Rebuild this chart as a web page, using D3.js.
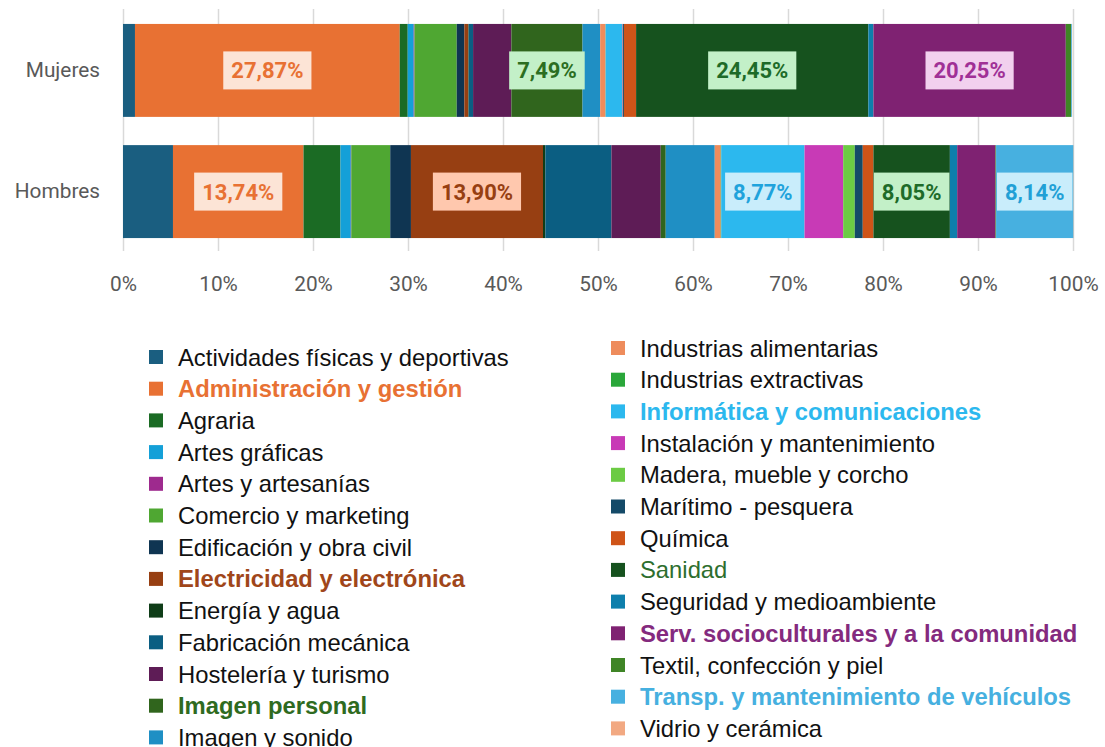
<!DOCTYPE html>
<html>
<head>
<meta charset="utf-8">
<style>
  body { margin: 0; background: #fff; }
  .gridlines line { stroke: #d9d9d9; stroke-width: 1.5; }
  .gridlines .domain { stroke: none; }
  .axis text { font-family: Roboto, sans-serif; font-size: 20.8px; fill: #595959; }
  .axis .domain, .axis line { stroke: none; }
  .legend text { font-family: Arial, "Liberation Sans", sans-serif; font-size: 23.8px; }
  .dlabel text { font-family: Roboto, sans-serif; font-size: 22px; font-weight: bold; }
</style>
<script src="https://d3js.org/d3.v7.min.js"></script>
</head>
<body>
<svg id="chart" width="1105" height="747"></svg>
<script>
// familias profesionales, % sobre el total de cada sexo
const categories = [
  "Actividades físicas y deportivas", "Administración y gestión", "Agraria", "Artes gráficas",
  "Artes y artesanías", "Comercio y marketing", "Edificación y obra civil", "Electricidad y electrónica",
  "Energía y agua", "Fabricación mecánica", "Hostelería y turismo", "Imagen personal",
  "Imagen y sonido", "Industrias alimentarias", "Industrias extractivas", "Informática y comunicaciones",
  "Instalación y mantenimiento", "Madera, mueble y corcho", "Marítimo - pesquera", "Química",
  "Sanidad", "Seguridad y medioambiente", "Serv. socioculturales y a la comunidad", "Textil, confección y piel",
  "Transp. y mantenimiento de vehículos", "Vidrio y cerámica"
];
const groups = ["Mujeres", "Hombres"];

const mujeres = [1.26, 27.87, 0.84, 0.63, 0.08, 4.45, 0.80, 0.42, 0.05, 0.45, 4.03, 7.49,
                 1.86, 0.56, 0.02, 1.72, 0.07, 0.03, 0.10, 1.28, 24.45, 0.53, 20.25, 0.56, 0.09, 0.02];
const hombres = [5.26, 13.74, 3.89, 1.09, 0.05, 4.10, 2.18, 13.90, 0.25, 6.95, 5.19, 0.53,
                 5.16, 0.63, 0.05, 8.77, 4.07, 1.22, 0.84, 1.12, 8.05, 0.77, 4.03, 0.06, 8.14, 0.02];
const tickValues = [0, 0.1, 0.2, 0.3, 0.4, 0.5, 0.6, 0.7, 0.8, 0.9, 1];

const colors = ["#1a5e80", "#e87133", "#1b6b24", "#14a0d8", "#9e2a8e", "#4fa732", "#0f3552", "#973f12",
                "#0f3d18", "#0b5e82", "#5e1c56", "#30651d", "#1f8fc4", "#ee8c5c", "#2aa73a", "#2cb8ee",
                "#c83ab6", "#6ccb44", "#144a68", "#cf5418", "#16521e", "#0e7fac", "#7f2272", "#3f8526",
                "#47b0e0", "#f2a982"];

// categorías con etiqueta y cómo se destacan
const highlight = {
  "Administración y gestión": {text: "#e87133", box: "#fce4d6", bold: true},
  "Electricidad y electrónica": {text: "#973f12", box: "#ffc8ae", bold: true},
  "Imagen personal": {text: "#2c6e22", box: "#c3f0c8", bold: true},
  "Informática y comunicaciones": {text: "#1fa3dc", box: "#c9edfb", bold: true},
  "Sanidad": {text: "#1e6b29", box: "#c3f0c8", bold: false},
  "Serv. socioculturales y a la comunidad": {text: "#a03096", box: "#f2d0ee", bold: true},
  "Transp. y mantenimiento de vehículos": {text: "#21a0d6", box: "#c9edfb", bold: true}
};
const legendColor = {
  "Administración y gestión": "#e87133",
  "Electricidad y electrónica": "#a0461a",
  "Imagen personal": "#2f6b1f",
  "Informática y comunicaciones": "#2cb8ee",
  "Sanidad": "#2d6e2e",
  "Serv. socioculturales y a la comunidad": "#842a7e",
  "Transp. y mantenimiento de vehículos": "#46b0e0"
};

const svg = d3.select("svg#chart");

const x = d3.scaleLinear().domain([0, 1]).range([123, 1073]);
const y = d3.scaleBand().domain(groups).range([10, 252]).paddingInner(0.233).paddingOuter(0.115);
const color = d3.scaleOrdinal().domain(categories).range(colors);

// gridlines
svg.append("g")
  .attr("class", "gridlines")
  .attr("transform", "translate(0,251)")
  .call(d3.axisBottom(x).tickValues(tickValues).tickSize(-242).tickFormat(""));

// stacked data
const table = groups.map((g, gi) => {
  const vals = gi === 0 ? mujeres : hombres;
  const row = {group: g};
  categories.forEach((c, i) => row[c] = vals[i] / 100);
  return row;
});
const series = d3.stack().keys(categories)(table);

const bars = svg.append("g");
series.forEach(s => {
  bars.selectAll(null)
    .data(s)
    .join("rect")
    .attr("x", d => x(d[0]))
    .attr("y", d => y(d.data.group))
    .attr("width", d => Math.max(0, x(d[1]) - x(d[0])))
    .attr("height", y.bandwidth())
    .attr("fill", color(s.key));
});

// data labels
const labels = svg.append("g").attr("class", "dlabel");
series.forEach(s => {
  const h = highlight[s.key];
  if (!h) return;
  s.forEach(d => {
    const v = d[1] - d[0];
    if (v < 0.05) return;
    const cx = (x(d[0]) + x(d[1])) / 2;
    const cy = y(d.data.group) + y.bandwidth() / 2;
    const g = labels.append("g");
    const t = g.append("text")
      .attr("x", cx).attr("y", cy)
      .attr("dy", "0.36em")
      .attr("text-anchor", "middle")
      .style("fill", h.text)
      .text(d3.format(".2f")(v * 100).replace(".", ",") + "%");
    const w = t.node().getComputedTextLength();
    g.insert("rect", "text")
      .attr("x", cx - w / 2 - 8).attr("y", cy - 19)
      .attr("width", w + 16).attr("height", 38)
      .attr("fill", h.box);
  });
});

// axes
svg.append("g")
  .attr("class", "axis")
  .attr("transform", "translate(0,273)")
  .call(d3.axisBottom(x).tickValues(tickValues).tickSize(0).tickFormat(d3.format(".0%")));

svg.append("g")
  .attr("class", "axis")
  .attr("transform", "translate(110,0)")
  .call(d3.axisLeft(y).tickSize(0))
  .selectAll("text").attr("dx", "-7");

// legend, dos columnas de 13
const legend = svg.append("g").attr("class", "legend");
const rowStep = 31.7;
categories.forEach((c, i) => {
  const col = i < 13 ? 0 : 1;
  const row = i % 13;
  const lx = col === 0 ? 149 : 611;
  const ly = (col === 0 ? 357 : 348) + row * rowStep;
  legend.append("rect")
    .attr("x", lx).attr("y", ly - 7)
    .attr("width", 14).attr("height", 14)
    .attr("fill", color(c));
  const h = highlight[c];
  legend.append("text")
    .attr("x", lx + 29).attr("y", ly)
    .attr("dy", "0.36em")
    .style("fill", legendColor[c] || "#111")
    .style("font-weight", h && h.bold ? "bold" : "normal")
    .text(c);
});
</script>
</body>
</html>
